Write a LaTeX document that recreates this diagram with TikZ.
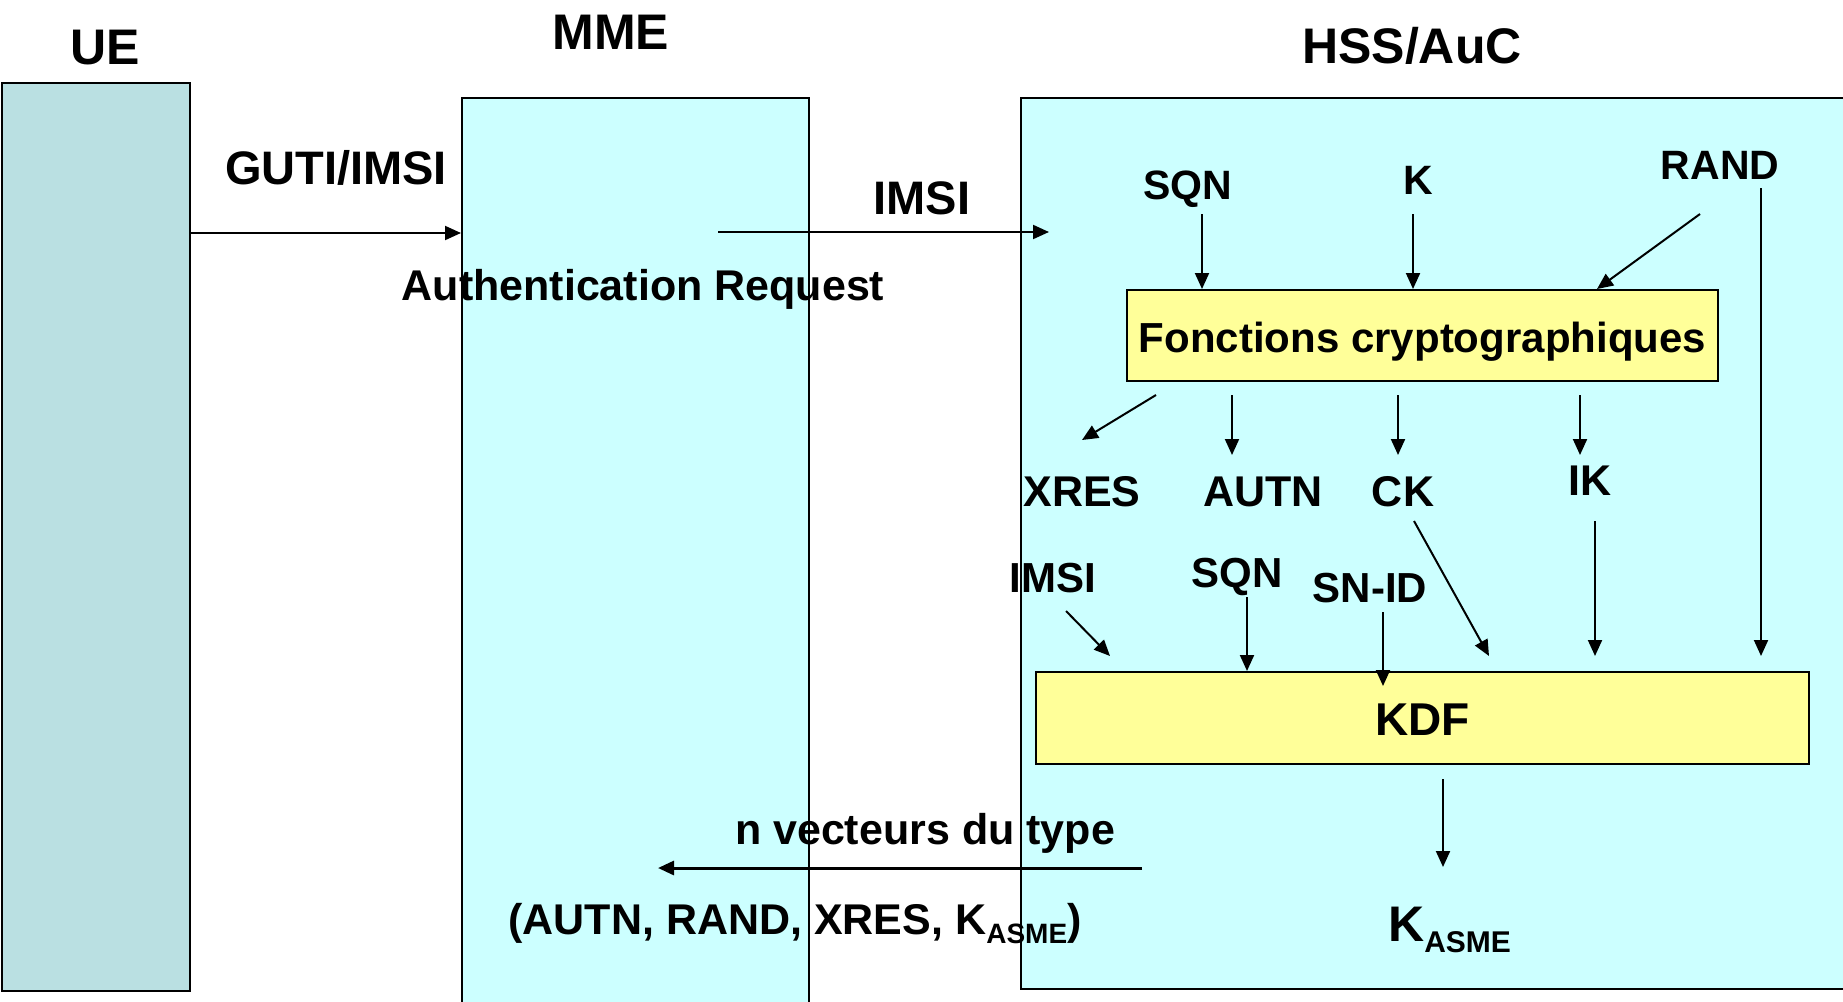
\documentclass[tikz,border=0pt]{standalone}
\usepackage{fontspec}
\setmainfont{Liberation Sans}
\usetikzlibrary{arrows.meta}
\newcommand\fsz[1]{\fontsize{#1pt}{#1pt}\selectfont\bfseries}
\definecolor{uefill}{RGB}{186,224,226}
\definecolor{cyanfill}{RGB}{204,255,255}
\definecolor{yelfill}{RGB}{255,255,153}

\begin{document}
\begin{tikzpicture}[x=1pt,y=-1pt,
  box/.style={draw=black, line width=2pt, inner sep=0pt, anchor=north west},
  arr/.style={-{Triangle[length=16pt,width=14pt]}, line width=2pt},
  lbl/.style={inner sep=0pt, anchor=base},
]
\useasboundingbox (0,0) rectangle (1843,1001);
\clip (0,0) rectangle (1843,1001);
\fill[white] (0,0) rectangle (1843,1001);

% entity columns
\node[box, fill=uefill, minimum width=188pt, minimum height=908pt] (ue) at (1,82) {};
\node[box, fill=cyanfill, minimum width=347pt, minimum height=920pt] (mme) at (461,97) {};
\node[box, fill=cyanfill, minimum width=840pt, minimum height=891pt] (hss) at (1020,97) {};

% column titles
\node[lbl, font=\fsz{50}] (uet) at (105,64) {UE};
\node[lbl, font=\fsz{50}] (mmet) at (611,49) {MME};
\node[lbl, font=\fsz{50}] (hsst) at (1412,63) {HSS/AuC};

% function blocks
\node[box, fill=yelfill, minimum width=591pt, minimum height=91pt,
      font=\fsz{42}, text height=33pt, text depth=0pt] (fc) at (1126,289)
      {Fonctions cryptographiques};
\node[box, fill=yelfill, minimum width=773pt, minimum height=92pt,
      font=\fsz{46}, text height=34pt, text depth=0pt] (kdf) at (1035,671) {KDF};

% messages
\node[lbl, font=\fsz{47}] (guti) at (336,184) {GUTI/IMSI};
\node[lbl, font=\fsz{47}] (imsia) at (922,214) {IMSI};
\node[lbl, font=\fsz{43}] (authreq) at (643,300) {Authentication Request};
\node[lbl, font=\fsz{43}] (nvec) at (925,844) {n vecteurs du type};
\node[lbl, font=\fsz{43}] (vect) at (795,934)
  {(AUTN, RAND, XRES, K\raisebox{-9pt}{\fsz{28}ASME})};

% inputs of the cryptographic functions
\node[lbl, font=\fsz{41}] (sqna) at (1188,199) {SQN};
\node[lbl, font=\fsz{41}] (kk) at (1418,194) {K};
\node[lbl, font=\fsz{41}] (rand) at (1720,179) {RAND};

% outputs
\node[lbl, font=\fsz{43}] (xres) at (1082,506) {XRES};
\node[lbl, font=\fsz{43}] (autn) at (1263,506) {AUTN};
\node[lbl, font=\fsz{43}] (ck) at (1403,506) {CK};
\node[lbl, font=\fsz{43}] (ik) at (1590,495) {IK};

% KDF inputs
\node[lbl, font=\fsz{42}] (imsib) at (1053,592) {IMSI};
\node[lbl, font=\fsz{42}] (sqnb) at (1237,587) {SQN};
\node[lbl, font=\fsz{42}] (snid) at (1370,602) {SN-ID};

% derived key
\node[inner sep=0pt, anchor=base west, font=\fsz{50}] (kasme) at (1388,941)
  {K\raisebox{-11pt}{\fsz{30}ASME}};

% connector end points
\coordinate (gutiy) at (0,233);
\coordinate (reqs) at (718,232);
\coordinate (reqe) at (1049,232);
\coordinate (rets) at (1142,868);
\coordinate (rete) at (658,868);
\coordinate (sqnin) at (1202,214);
\coordinate (kin) at (1413,214);
\coordinate (randin) at (1700,214);
\coordinate (randfc) at (1597,289);
\coordinate (randtop) at (1761,188);
\coordinate (randkdf) at (1761,656);
\coordinate (oxres) at (1156,395);
\coordinate (txres) at (1082,440);
\coordinate (oautn) at (1232,395);
\coordinate (tautn) at (1232,455);
\coordinate (ock) at (1398,395);
\coordinate (tck) at (1398,455);
\coordinate (oik) at (1580,395);
\coordinate (tik) at (1580,455);
\coordinate (cks) at (1414,521);
\coordinate (cke) at (1489,656);
\coordinate (iks) at (1595,521);
\coordinate (ike) at (1595,656);
\coordinate (imsis) at (1066,611);
\coordinate (imsie) at (1110,656);
\coordinate (sqnbs) at (1247,597);
\coordinate (snids) at (1383,612);
\coordinate (snide) at (1383,686);
\coordinate (kdfo) at (1443,779);
\coordinate (kasmein) at (1443,867);

% message arrows
\draw[arr] (gutiy -| ue.east) -- (gutiy -| mme.west);
\draw[arr] (reqs) -- (reqe);
\draw[arr, line width=3pt] (rets) -- (rete);

% cryptographic functions
\draw[arr] (sqnin) -- (sqnin |- fc.north);
\draw[arr] (kin) -- (kin |- fc.north);
\draw[arr] (randin) -- (randfc);
\draw[arr] (randtop) -- (randkdf);
\draw[arr] (oxres) -- (txres);
\draw[arr] (oautn) -- (tautn);
\draw[arr] (ock) -- (tck);
\draw[arr] (oik) -- (tik);

% key derivation
\draw[arr] (cks) -- (cke);
\draw[arr] (iks) -- (ike);
\draw[arr] (imsis) -- (imsie);
\draw[arr] (sqnbs) -- (sqnbs |- kdf.north);
\draw[arr] (snids) -- (snide);
\draw[arr] (kdfo) -- (kasmein);
\end{tikzpicture}
\end{document}
